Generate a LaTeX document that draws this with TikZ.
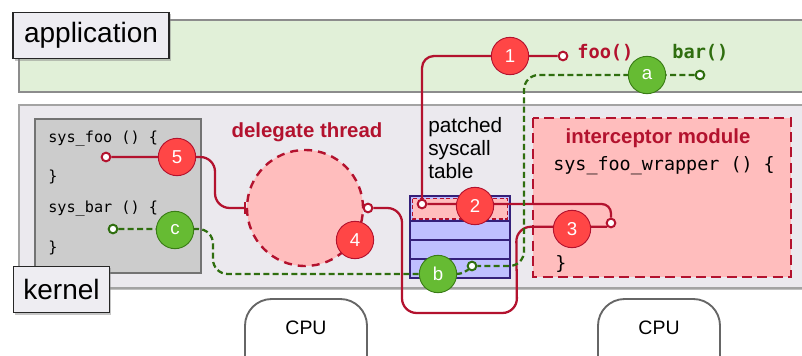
\documentclass[tikz,border=0pt]{standalone}
\usepackage{fontspec}
\setmainfont{Liberation Sans}
\setmonofont{DejaVu Sans Mono}
\usetikzlibrary{shadows,arrows.meta}

\definecolor{appgreen}{HTML}{E1F0D8}
\definecolor{kernelbg}{HTML}{EBE9EE}
\definecolor{tagbg}{HTML}{EEEDF2}
\definecolor{codegray}{HTML}{CCCCCC}
\definecolor{softpink}{HTML}{FFBDBD}
\definecolor{numred}{HTML}{FF4646}
\definecolor{wirered}{HTML}{B3122E}
\definecolor{numgreen}{HTML}{66BB33}
\definecolor{wiregreen}{HTML}{2F6E0F}
\definecolor{rowblue}{HTML}{BFBFFF}
\definecolor{rowedge}{HTML}{35207A}
\definecolor{frame}{HTML}{8C8C8C}

\pgfdeclarelayer{boxes}
\pgfdeclarelayer{wires}
\pgfsetlayers{boxes,wires,main}

\tikzset{
  tagbox/.style={draw=black!85, line width=0.9pt, fill=tagbg, inner sep=0pt,
    font=\fontsize{21pt}{25pt}\selectfont,
    drop shadow={shadow xshift=1.2pt, shadow yshift=-1.5pt, opacity=.45}},
  rednum/.style={circle, draw=wirered, line width=0.7pt, fill=numred, text=white,
    minimum size=28pt, inner sep=0pt, font=\fontsize{14pt}{16pt}\selectfont},
  greennum/.style={circle, draw=wiregreen!80!numgreen, line width=0.7pt, fill=numgreen, text=white,
    minimum size=28pt, inner sep=0pt, font=\fontsize{14pt}{16pt}\selectfont},
  redport/.style={circle, draw=wirered, line width=1.5pt, fill=white, minimum size=6.5pt, inner sep=0pt},
  greenport/.style={circle, draw=wiregreen, line width=1.5pt, fill=white, minimum size=6.5pt, inner sep=0pt},
  redwire/.style={draw=wirered, line width=1.7pt, rounded corners=9pt},
  greenwire/.style={draw=wiregreen, line width=1.7pt, rounded corners=9pt, dash pattern=on 4.5pt off 2.5pt},
  codetext/.style={anchor=west, inner sep=0pt, font=\ttfamily\fontsize{11.4pt}{13pt}\selectfont},
  bigcode/.style={anchor=west, inner sep=0pt, font=\ttfamily\fontsize{13.8pt}{16pt}\selectfont},
  heading/.style={inner sep=0pt, text=wirered, font=\bfseries\fontsize{15.3pt}{18pt}\selectfont},
  cpubox/.style={draw=black!60, line width=1.4pt, fill=white, rounded corners=20pt},
}

\begin{document}
\begin{tikzpicture}[x=0.75pt, y=-0.75pt]
\useasboundingbox (0,0) rectangle (802,356);
\clip (0,0) rectangle (802,356);

% ---------------- backgrounds ----------------
\begin{pgfonlayer}{boxes}
  % user space
  \draw[frame, line width=0.8pt, fill=appgreen] (19,20) rectangle (830,92);
  % kernel space
  \draw[frame!80, line width=0.8pt, fill=kernelbg,
        drop shadow={shadow xshift=0pt, shadow yshift=-1.5pt, opacity=.5}] (19,105) rectangle (830,288);
  % original system call bodies
  \draw[black!55, line width=0.8pt, fill=codegray] (35,119) rectangle (201,273);
  % delegate thread
  \node[circle, minimum size=87pt, fill=softpink, draw=wirered, line width=1.8pt,
        dash pattern=on 6pt off 4.5pt] (dt) at (305,208) {};
  % interceptor module
  \draw[wirered, line width=2.2pt, dash pattern=on 7.5pt off 4pt, fill=softpink] (533,118) rectangle (791,277);
  % patched syscall table
  \node[draw=rowedge, line width=0.9pt, fill=rowblue, minimum width=75pt, minimum height=61.5pt,
        inner sep=0pt] (tbl) at (460,237) {};
  \draw[rowedge, line width=0.9pt] (410,221) -- (510,221) (410,240) -- (510,240) (410,259) -- (510,259);
  \draw[wirered, line width=0.8pt, dash pattern=on 3pt off 2pt, fill=softpink] (412.5,198.5) rectangle (507.5,219);
  % processors
  \draw[cpubox] (245,299) rectangle (367,400);
  \draw[cpubox] (598,299) rectangle (720,400);
\end{pgfonlayer}

% ---------------- labels ----------------
\node[tagbox, minimum width=117pt, minimum height=35pt] (app) at (91,35.5) {application};
\node[tagbox, minimum width=72.5pt, minimum height=35pt] (ker) at (61.5,289.5) {kernel};

\node[codetext] (f1) at (48,139) {sys\_foo () \{};
\node[codetext] (f2) at (48,177) {\}};
\node[codetext] (b1) at (48,209) {sys\_bar () \{};
\node[codetext] (b2) at (48,248) {\}};

\node[heading] (dtl) at (307,132) {delegate thread};
\node[heading] (iml) at (658,138) {interceptor module};
\node[bigcode] (w1) at (553,166) {sys\_foo\_wrapper () \{};
\node[bigcode] (w2) at (555,264) {\}};

\node[anchor=west, inner sep=0pt, align=left, font=\fontsize{15.6pt}{17.3pt}\selectfont] (pst) at (428,148)
  {patched\\syscall\\table};

\node[anchor=west, inner sep=0pt, text=wirered, font=\ttfamily\bfseries\fontsize{14pt}{16pt}\selectfont] (foo) at (577,53) {foo()};
\node[anchor=west, inner sep=0pt, text=wiregreen, font=\ttfamily\bfseries\fontsize{14pt}{16pt}\selectfont] (bar) at (672,53) {bar()};

\node[font=\fontsize{14.6pt}{17pt}\selectfont] (cpu1) at (306,328) {CPU};
\node[font=\fontsize{14.6pt}{17pt}\selectfont] (cpu2) at (659,328) {CPU};

% ---------------- ports ----------------
\node[redport] (pF) at (563,56) {};
\node[redport] (pT) at (422,204) {};
\node[redport] (pW) at (611,223) {};
\node[redport] (pD) at (368,208) {};
\node[redport] (p5) at (106,157) {};
\node[greenport] (pA) at (700,75) {};
\node[greenport] (pB) at (472,266) {};
\node[greenport] (pC) at (113,229) {};

% ---------------- numbered steps ----------------
\node[rednum] (n1) at (510,56) {1};
\node[rednum] (n2) at (475,206) {2};
\node[rednum] (n3) at (572,229) {3};
\node[rednum] (n4) at (355,240) {4};
\node[rednum] (n5) at (177,157) {5};
\node[greennum] (na) at (647,75) {a};
\node[greennum] (nb) at (438,274) {b};
\node[greennum] (nc) at (175,230) {c};

% ---------------- connectors ----------------
\begin{pgfonlayer}{wires}
  % foo(): user call reaches the patched table entry
  \draw[redwire] (pF) -| (pT);
  % table entry redirects to the wrapper
  \draw[redwire, rounded corners=7pt] (pT) -| (pW);
  % wrapper hands the call to the delegate thread
  \draw[redwire, rounded corners=11pt] (pW.south west) -- ++(-91,0) -- (517,313) -- (402,313)
        -- (402,208) -- (pD);
  % delegate thread runs the original sys_foo
  \draw[redwire, rounded corners=11pt, -{Bar[width=9pt, line width=1.7pt]}] (p5) -| (215,208) -- (dt.west);
  % bar(): untouched table entry
  \draw[greenwire, rounded corners=11pt] (pA) -| (524,266) -- (pB);
  % the entry leads straight to sys_bar
  \draw[greenwire, rounded corners=11pt] (pC) -| (213,274) -- (456,274);
  \draw[greenwire] (456,274) .. controls (463,274) and (465,271) .. (pB.south west);
\end{pgfonlayer}
\end{tikzpicture}
\end{document}
